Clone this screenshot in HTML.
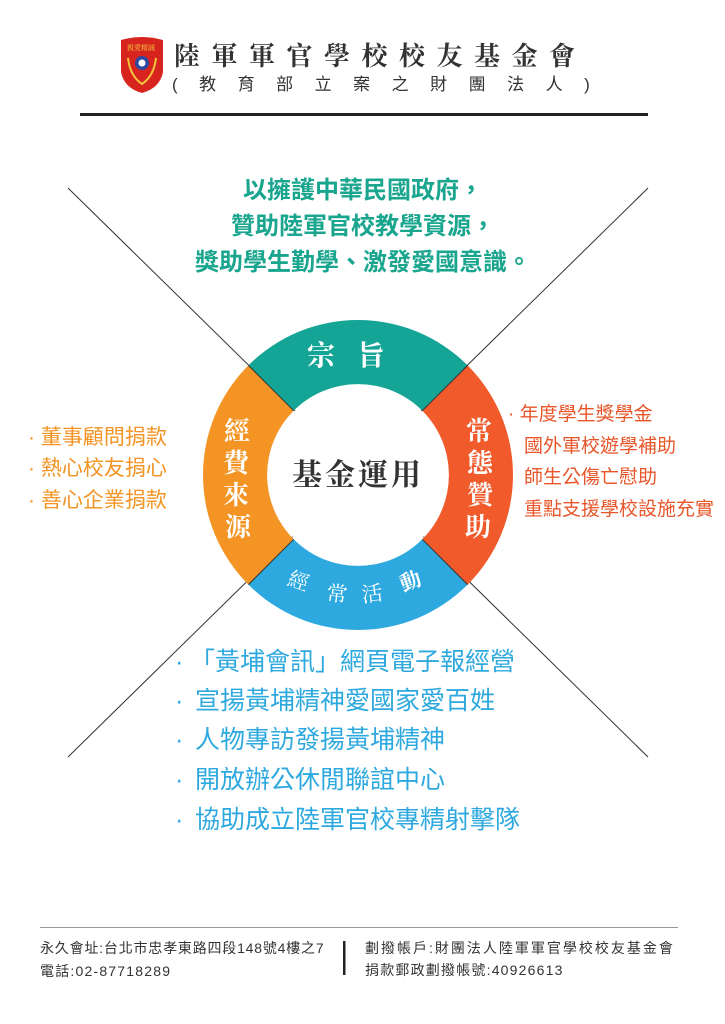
<!DOCTYPE html>
<html><head><meta charset="utf-8"><style>
body{margin:0;background:#fff;}
svg{display:block}
.s{font-family:"Liberation Serif","Noto Serif CJK SC",serif}
.n{font-family:"Liberation Sans","Noto Sans CJK TC",sans-serif}
</style></head><body>
<svg width="725" height="1024" viewBox="0 0 725 1024" xmlns="http://www.w3.org/2000/svg">
<!-- header -->
<path d="M121 40 Q142 34 163 40 L163 72 Q160 88 142 93 Q124 88 121 72 Z" fill="#d8241f"/>
<circle cx="142" cy="63" r="7" fill="#2b4aa0"/><circle cx="142" cy="63" r="3.5" fill="#fff"/>
<path d="M128 58 Q130 76 142 84 Q154 76 156 58" fill="none" stroke="#f2c53d" stroke-width="2"/>
<text x="127" y="50" font-size="7" fill="#f2c53d" class="s">親愛精誠</text>
<text x="174" y="65" font-size="26" font-weight="bold" fill="#333" class="s" letter-spacing="11.5">陸軍軍官學校校友基金會</text>
<text x="172" y="90" font-size="17" fill="#333" class="n" letter-spacing="21.5">(教育部立案之財團法人)</text>
<rect x="80" y="113" width="568" height="3" fill="#222"/>
<!-- diagonals -->
<line x1="68" y1="188" x2="648" y2="757" stroke="#333" stroke-width="1"/>
<line x1="648" y1="188" x2="68" y2="757" stroke="#333" stroke-width="1"/>
<!-- ring -->
<path d="M248.4 365.4 A155 155 0 0 1 467.6 365.4 L422.3 410.7 A91 91 0 0 0 293.7 410.7 Z" fill="#14a596"/>
<path d="M467.6 365.4 A155 155 0 0 1 467.6 584.6 L422.3 539.3 A91 91 0 0 0 422.3 410.7 Z" fill="#f15a2b"/>
<path d="M467.6 584.6 A155 155 0 0 1 248.4 584.6 L293.7 539.3 A91 91 0 0 0 422.3 539.3 Z" fill="#2ea9df"/>
<path d="M248.4 584.6 A155 155 0 0 1 248.4 365.4 L293.7 410.7 A91 91 0 0 0 293.7 539.3 Z" fill="#f39424"/>
<line x1="248.4" y1="365.4" x2="293.7" y2="410.7" stroke="#333"/>
<line x1="467.6" y1="365.4" x2="422.3" y2="410.7" stroke="#333"/>
<line x1="467.6" y1="584.6" x2="422.3" y2="539.3" stroke="#333"/>
<line x1="248.4" y1="584.6" x2="293.7" y2="539.3" stroke="#333"/>
<circle cx="358" cy="475" r="90" fill="#fff"/>
<text x="357" y="365" font-size="28" font-weight="bold" fill="#fff" class="s" text-anchor="middle" letter-spacing="22">宗旨</text>
<g font-size="26" fill="#fff" class="s" font-weight="bold" text-anchor="middle">
<text x="237" y="440">經</text><text x="236" y="472">費</text><text x="236" y="504">來</text><text x="238" y="536">源</text>
<text x="479" y="440">常</text><text x="480" y="472">態</text><text x="480" y="504">贊</text><text x="478" y="536">助</text>
</g>
<g font-size="21" fill="#fff" class="s" text-anchor="middle">
<text x="296" y="588" transform="rotate(20 296 588)">經</text>
<text x="336" y="601" transform="rotate(7 336 601)">常</text>
<text x="373" y="601" transform="rotate(-7 373 601)">活</text>
<text x="413" y="588" transform="rotate(-20 413 588)" font-weight="bold">動</text>
</g>
<text x="358" y="485" font-size="30" font-weight="bold" fill="#333" class="s" text-anchor="middle" letter-spacing="3">基金運用</text>
<!-- mission -->
<g font-size="24" font-weight="bold" fill="#1aa58e" class="n" text-anchor="middle">
<text x="363" y="198">以擁護中華民國政府，</text>
<text x="363" y="234">贊助陸軍官校教學資源，</text>
<text x="363" y="270">獎助學生勤學、激發愛國意識。</text>
</g>
<!-- left list -->
<g font-size="21" fill="#f39424" class="n">
<text x="28" y="444">· 董事顧問捐款</text>
<text x="28" y="475">· 熱心校友捐心</text>
<text x="28" y="507">· 善心企業捐款</text>
</g>
<!-- right list -->
<g font-size="19" fill="#e8562a" class="n">
<text x="508" y="420">· 年度學生獎學金</text>
<text x="524" y="452">國外軍校遊學補助</text>
<text x="524" y="483">師生公傷亡慰助</text>
<text x="524" y="515">重點支援學校設施充實</text>
</g>
<!-- bottom list -->
<g font-size="25" fill="#2ea9df" class="n">
<text x="175" y="670">·</text><text x="190" y="670">「黃埔會訊」網頁電子報經營</text>
<text x="175" y="709">·</text><text x="195" y="709">宣揚黃埔精神愛國家愛百姓</text>
<text x="175" y="748">·</text><text x="195" y="748">人物專訪發揚黃埔精神</text>
<text x="175" y="788">·</text><text x="195" y="788">開放辦公休閒聯誼中心</text>
<text x="175" y="828">·</text><text x="195" y="828">協助成立陸軍官校專精射擊隊</text>
</g>
<!-- footer -->
<rect x="40" y="927" width="638" height="1" fill="#999"/>
<g font-size="14" fill="#333" class="n">
<text x="40" y="953" letter-spacing="0.8">永久會址:台北市忠孝東路四段148號4樓之7</text>
<text x="40" y="976" letter-spacing="1.2">電話:02-87718289</text>
<text x="365" y="953" letter-spacing="2">劃撥帳戶:財團法人陸軍軍官學校校友基金會</text>
<text x="365" y="975" letter-spacing="1.2">捐款郵政劃撥帳號:40926613</text>
</g>
<rect x="343" y="941" width="2.5" height="34" fill="#222"/>
</svg>
</body></html>
